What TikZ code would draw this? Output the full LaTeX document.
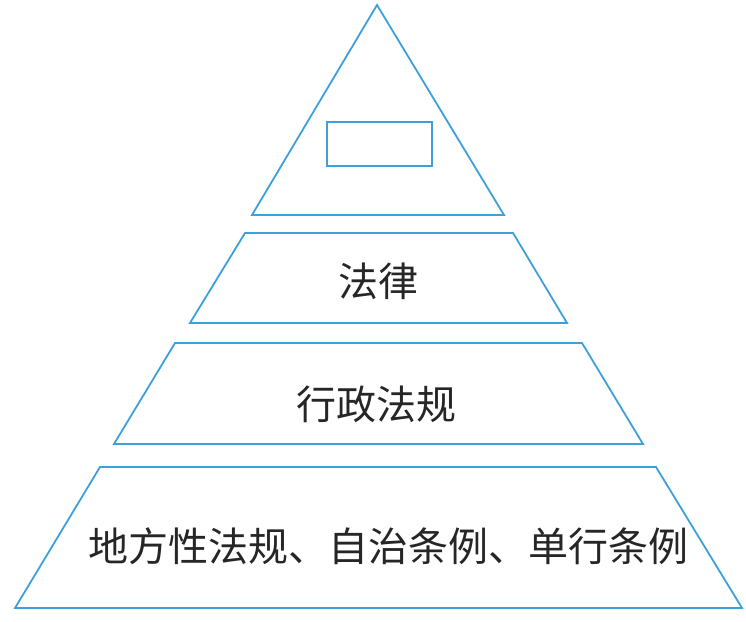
\documentclass[tikz,border=0pt]{standalone}
\usepackage{fontspec}
\newfontfamily\cjk{Noto Sans CJK SC}
\definecolor{lineblue}{RGB}{62,160,218}
\tikzset{
  layer/.style={draw=lineblue, line width=1.8pt, line join=miter},
  label/.style={font=\cjk\fontsize{40}{44}\selectfont, text=black!85, inner sep=0pt}
}
\begin{document}
\begin{tikzpicture}[x=1pt,y=-1pt]
\useasboundingbox (0,0) rectangle (746,621);
% apex triangle
\draw[layer] (377,5) -- (504,215) -- (252,215) -- cycle;
\draw[layer] (327,122) rectangle (432,166);
% layer 2
\draw[layer] (245,233) -- (513,233) -- (567,323) -- (190,323) -- cycle;
\node[label] (law) at (378,281) {法律};
% layer 3
\draw[layer] (175,343) -- (582,343) -- (643,444) -- (114,444) -- cycle;
\node[label] (admin) at (376,404) {行政法规};
% layer 4
\draw[layer] (100,467) -- (656,467) -- (742,608) -- (15,608) -- cycle;
\node[label] (local) at (388,546) {地方性法规、自治条例、单行条例};
\end{tikzpicture}
\end{document}
